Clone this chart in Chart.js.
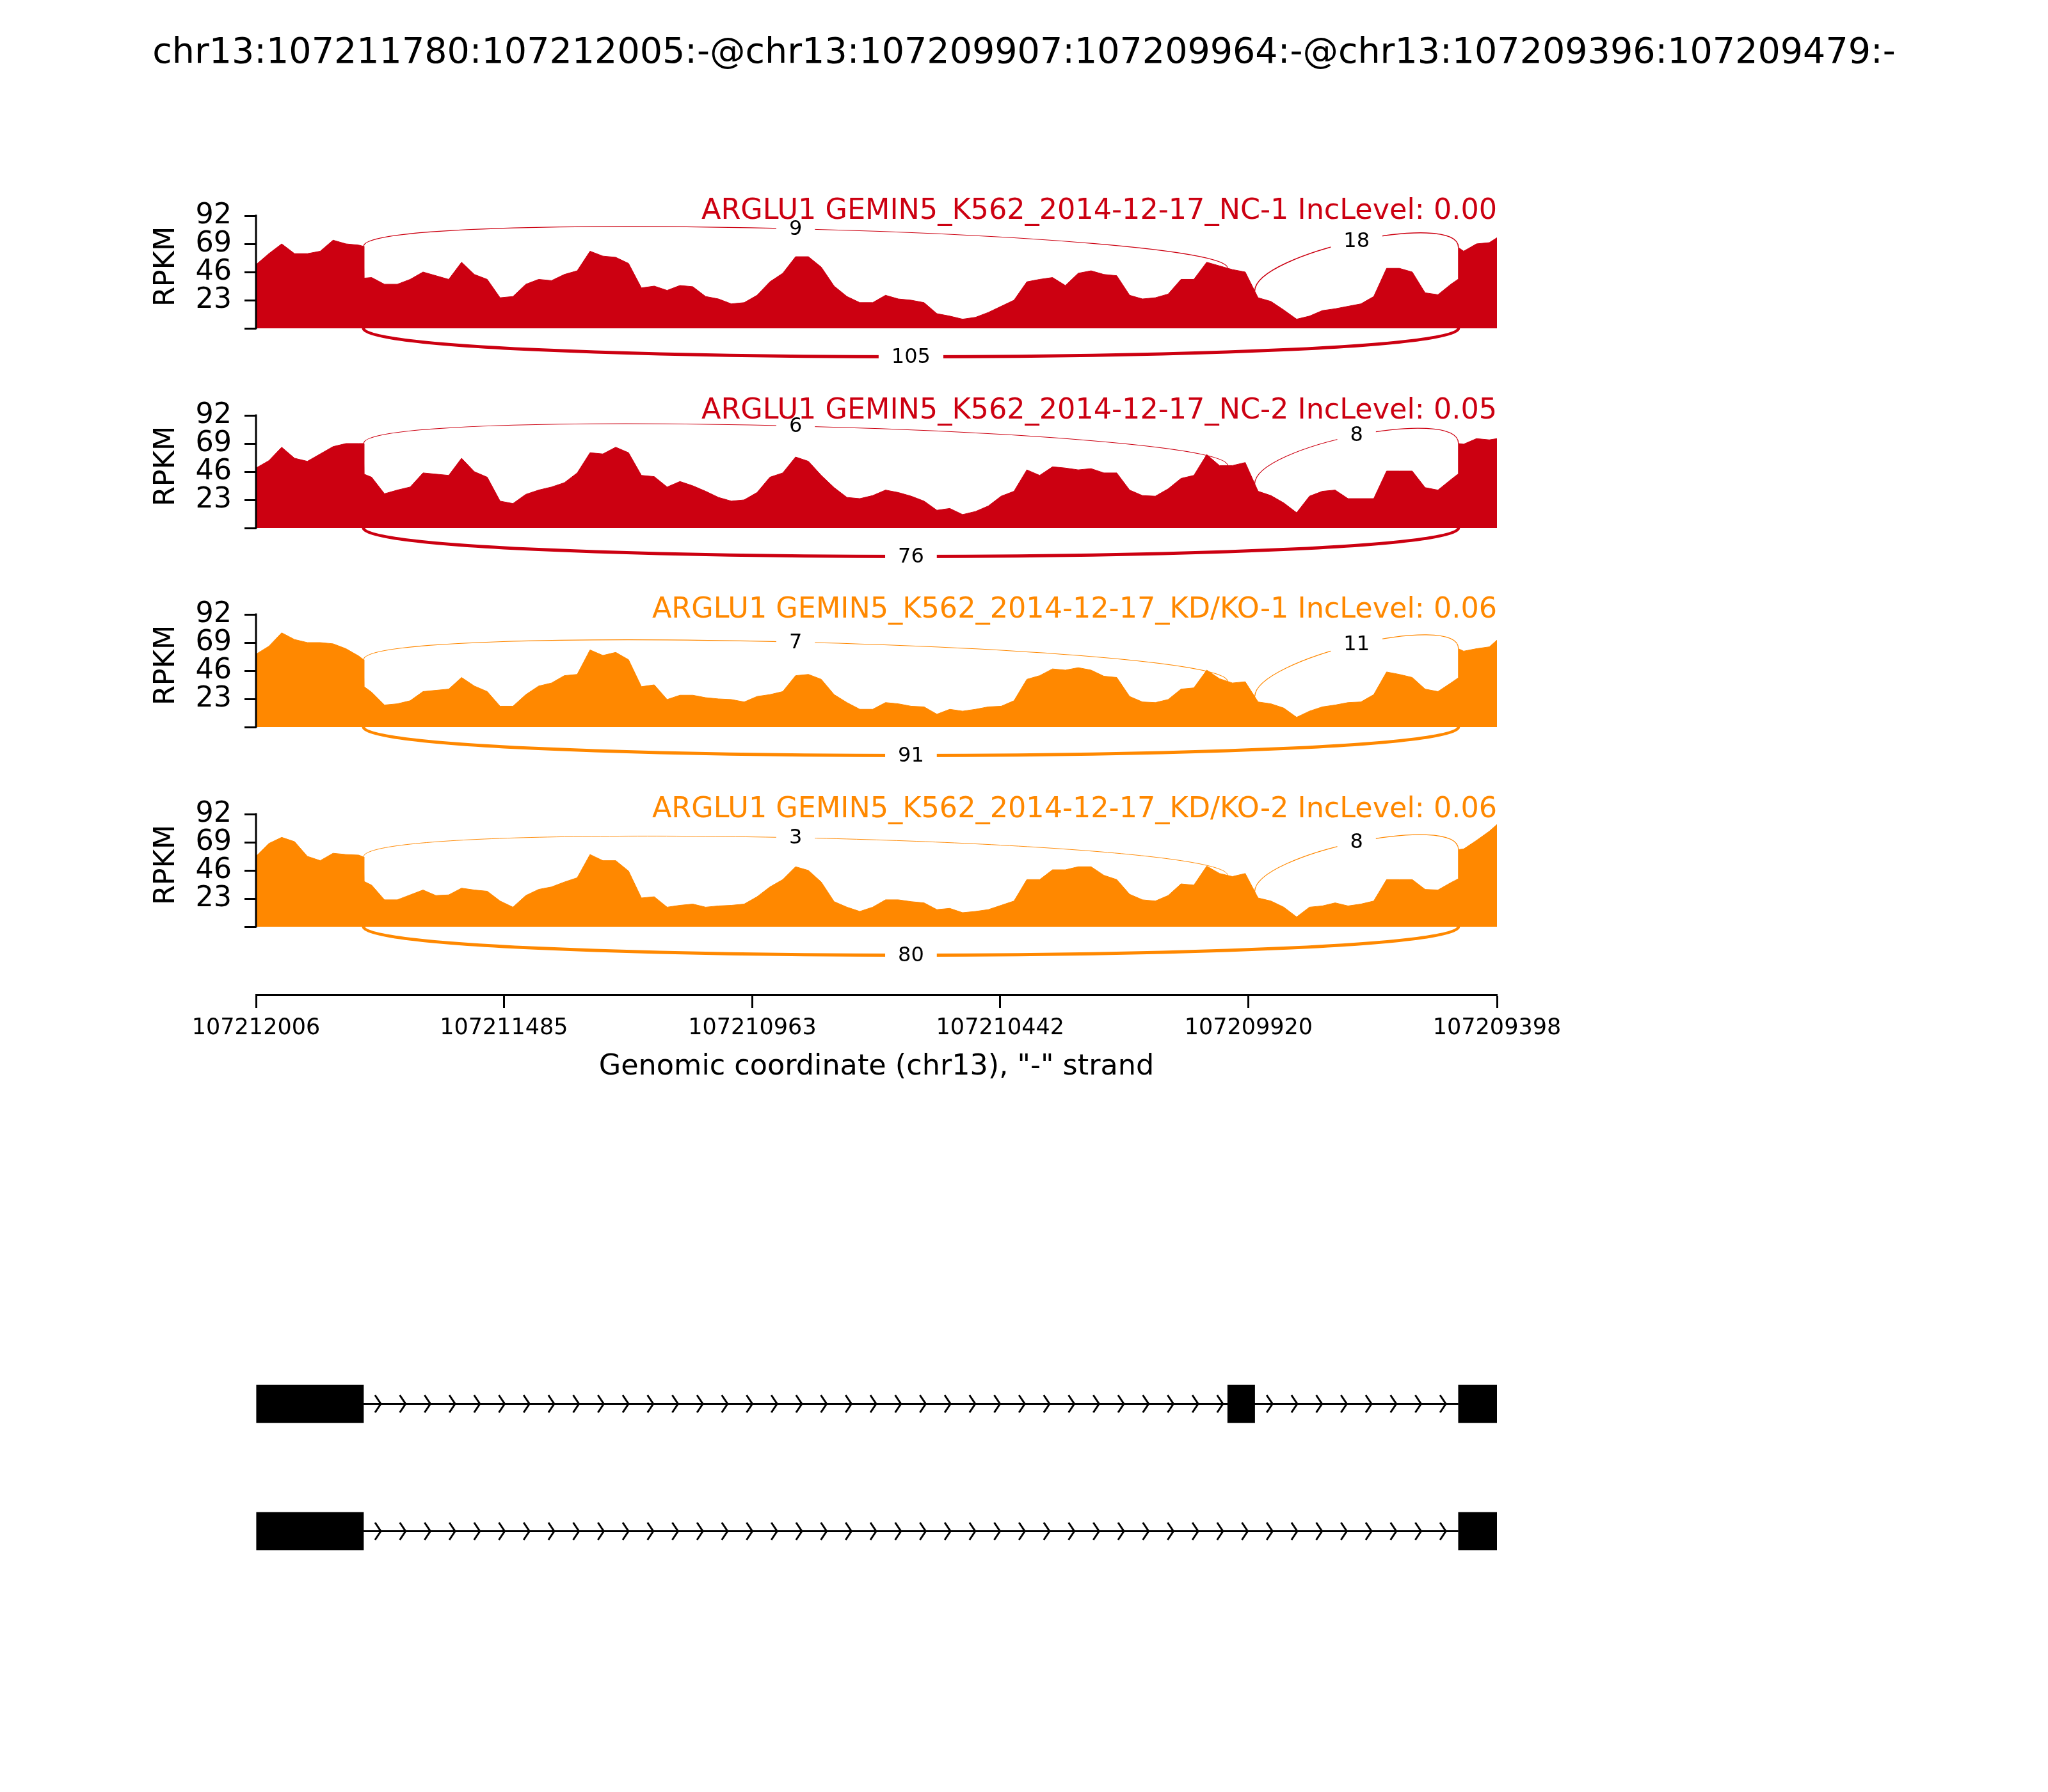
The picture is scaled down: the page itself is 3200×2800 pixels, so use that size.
<!DOCTYPE html>
<html><head><meta charset="utf-8">
<script src="https://cdn.jsdelivr.net/npm/chart.js@4.4.1/dist/chart.umd.min.js"></script>
<style>
html,body{margin:0;padding:0;background:#fff;}
#page{position:relative;width:3200px;height:2800px;background:#fff;overflow:hidden;}
#page canvas{position:absolute;left:0;}
#title{position:absolute;left:0;width:3200px;top:51px;text-align:center;font-family:'DejaVu Sans';font-size:55.5px;line-height:55px;color:#000;white-space:nowrap;}
</style></head><body><div id="page"><div id="title"></div></div>
<script>
// ---------------- data ----------------
const regionTitle = "chr13:107211780:107212005:-@chr13:107209907:107209964:-@chr13:107209396:107209479:-";
const xAxisLabel = 'Genomic coordinate (chr13), "-" strand';
const yAxisLabel = "RPKM";
const xMin = 107209398, xMax = 107212006;
const xTickValues = [107212006, 107211485, 107210963, 107210442, 107209920, 107209398];
const xTickLabels = ["107212006", "107211485", "107210963", "107210442", "107209920", "107209398"];
const yTickValues = [0, 23, 46, 69, 92];

const positions = [
 107212006,107211979,107211952,107211925,107211898,107211871,107211844,107211817,107211790,
 107211780,107211779,
 107211763,107211736,107211709,107211682,107211655,107211628,107211601,107211574,107211547,107211520,
 107211493,107211466,107211439,107211412,107211385,107211358,107211331,107211304,107211277,107211250,
 107211223,107211196,107211169,107211142,107211115,107211088,107211061,107211034,107211007,107210980,
 107210953,107210926,107210899,107210872,107210845,107210818,107210791,107210764,107210737,107210710,
 107210683,107210656,107210629,107210602,107210575,107210548,107210521,107210494,107210467,107210440,
 107210413,107210386,107210359,107210332,107210305,107210278,107210251,107210224,107210197,107210170,
 107210143,107210116,107210089,107210062,107210035,107210008,107209981,107209954,107209927,107209900,
 107209873,107209846,107209819,107209792,107209765,107209738,107209711,107209684,107209657,107209630,
 107209603,107209576,107209549,107209522,107209495,
 107209480,107209479,
 107209468,107209441,107209414,
 107209398
];

const covNC1 = [52,61,69,61,61,63,72,69,68,
 67,41,
 41.5,36,36,40,46,43,40,54,44,40,25,26,36,40,39,44,47,63,59,58,53,33,34.5,31,35,34,26,24,20,21,27,38,45,58.5,58.5,50,34.5,26,21,21,
 27,24,23,21,12,10,7.5,9,13,18,23,38,40,41.5,35,45,47,44,43,27,24,25,28,40,40,54,51,48,46,25,22,15,7.5,10,14.5,16,18,20,26,49,49,46,29,27.5,36,
 40,66,
 63,69,70,
 74];
const covNC2 = [49,55,66,57,54.5,60.5,66.5,69,69,
 69,44,
 41.5,28,31,33.5,45,44,43,57,46,41.5,22,20,27.5,31,33.5,37,45,61.5,60.5,66,61.5,43,42,33.5,38,34.5,30,25,22,23,29,41.5,45,58,54.5,43,33,25,24,26.5,
 31,29,26,22,14.5,16,11,13.5,18,26,30,47.5,43,50,49,47.5,48.5,45,45,31,26.5,26,32,40.5,43,60,51,51,53.5,30,26.5,20.5,12.5,26,30,31,24,24,24,46.5,46.5,46.5,33,31,39.5,
 44,69,
 68.5,73,72,
 73];
const covKD1 = [59.5,66,77,71.5,69,69,68,64,58,
 55,33,
 28.5,18,19,21.5,29,30,31,40.5,33.5,29,17,17,26.5,33.5,36,42,43,63,58.5,61,55,33,34.5,22.5,26,26,24,23,22.5,20.5,25,26.5,29,42,43,39,26.5,20,14.5,14.5,
 20,19,17,16.5,10.5,14.5,13,14.5,16.5,17,21.5,39,42,47.5,46.5,48.5,46.5,41.5,40.5,25,20.5,20,22.5,31,32,46.5,39.5,36,37,20.5,19,15.5,8,13,16.5,18,20,20.5,26.5,45,43,40.5,31,29,36,
 40,64,
 62,64,65.5,
 71];
const covKD2 = [57.5,68,73,69.5,57.5,54,60,59,58.5,
 57,37,
 34,22,22,26,30,25.5,26,31.5,30,29,21,16,25.5,30.5,32.5,36.5,40,59,54,54,45.5,23.5,24.5,16,17.5,18.5,16,17,17.5,18.5,24.5,32.5,38.5,49,46,36.5,20.5,16,12.5,16,
 22,22,20.5,19.5,14,15,11.5,12.5,14,17.5,21,38.5,38.5,46.5,46.5,49,49,42,38.5,26.5,22,21,25.5,35,34,49.5,43.5,41,43.5,23.5,21,16,8,16,17,19.5,17,18.5,21,38.5,38.5,38.5,30.5,30,36,
 39,63,
 63.5,70.5,78,
 83.5];

const sampleNames = [
 "ARGLU1 GEMIN5_K562_2014-12-17_NC-1 IncLevel: 0.00",
 "ARGLU1 GEMIN5_K562_2014-12-17_NC-2 IncLevel: 0.05",
 "ARGLU1 GEMIN5_K562_2014-12-17_KD/KO-1 IncLevel: 0.06",
 "ARGLU1 GEMIN5_K562_2014-12-17_KD/KO-2 IncLevel: 0.06"
];
const sampleColors = ["#CC0011", "#CC0011", "#FF8800", "#FF8800"];
const sampleCoverage = [covNC1, covNC2, covKD1, covKD2];

// junctions: left/right genomic coordinate (display order), side of the arc
const juncLeft  = [107211780, 107209907, 107211780];
const juncRight = [107209964, 107209479, 107209479];
const juncSide  = ["top", "top", "bottom"];
const juncCountsNC1 = [9, 18, 105];
const juncCountsNC2 = [6, 8, 76];
const juncCountsKD1 = [7, 11, 91];
const juncCountsKD2 = [3, 8, 80];
const sampleJunctions = [juncCountsNC1, juncCountsNC2, juncCountsKD1, juncCountsKD2];

// gene model
const exonStarts = [107211780, 107209907, 107209396];
const exonEnds   = [107212005, 107209964, 107209479];
const isoformExons = [[0, 1, 2], [0, 2]];
const isoformLabels = ["inclusion", "skipping"];

// ---------------- layout ----------------
const FONT = "'DejaVu Sans'";
const W = 3200;
const PLOT_LEFT = 400, PLOT_RIGHT = 2339;
const panelTops = [337, 649, 960, 1272];
const PANEL_PAD_TOP = 110, PANEL_H = 264, PANEL_PAD_BOTTOM = 70;
const ARC_H = 31;
const LABEL_SIZE = 44.5;

document.getElementById('title').textContent = regionTitle;
const page = document.getElementById('page');
function makeCanvas(top, height) {
  const c = document.createElement('canvas');
  c.width = W; c.height = height;
  c.style.top = top + 'px';
  c.style.width = W + 'px'; c.style.height = height + 'px';
  page.appendChild(c);
  return c.getContext('2d');
}

function interp(g, vals) {
  for (let i = 0; i < positions.length - 1; i++) {
    const a = positions[i], b = positions[i + 1];
    if (a >= g && g >= b) {
      const t = (a - g) / (a - b);
      return vals[i] + (vals[i + 1] - vals[i]) * t;
    }
  }
  return 0;
}

function makePanelPlugin(idx) {
  const vals = sampleCoverage[idx], counts = sampleJunctions[idx], color = sampleColors[idx];
  return {
    id: 'sashimi' + idx,
    afterDatasetsDraw(chart) {
      const {ctx, chartArea, scales: {x, y}} = chart;
      const maxC = Math.max(...counts);
      const labels = [];
      ctx.save();
      for (let j = 0; j < counts.length; j++) {
        const x1 = x.getPixelForValue(juncLeft[j]);
        const x2 = x.getPixelForValue(juncRight[j]);
        let y1v, y2v, c1v, c2v;
        if (juncSide[j] === 'top') {
          y1v = interp(juncLeft[j], vals); y2v = interp(juncRight[j], vals);
          c1v = y1v + ARC_H; c2v = y2v + ARC_H;
        } else {
          y1v = 0; y2v = 0; c1v = -ARC_H; c2v = -ARC_H;
        }
        const P0 = [x1, y.getPixelForValue(y1v)], P1 = [x1, y.getPixelForValue(c1v)];
        const P2 = [x2, y.getPixelForValue(c2v)], P3 = [x2, y.getPixelForValue(y2v)];
        ctx.beginPath();
        ctx.moveTo(P0[0], P0[1]);
        ctx.bezierCurveTo(P1[0], P1[1], P2[0], P2[1], P3[0], P3[1]);
        ctx.strokeStyle = color;
        ctx.lineWidth = 0.8 + 4.2 * counts[j] / maxC;
        ctx.stroke();
        const mx = (P0[0] + 3 * P1[0] + 3 * P2[0] + P3[0]) / 8;
        const my = (P0[1] + 3 * P1[1] + 3 * P2[1] + P3[1]) / 8;
        labels.push([mx, my, String(counts[j])]);
      }
      ctx.font = "32px " + FONT;
      ctx.textAlign = 'center'; ctx.textBaseline = 'middle';
      for (const [mx, my, t] of labels) {
        const w = ctx.measureText(t).width;
        ctx.fillStyle = '#fff';
        ctx.fillRect(mx - w / 2 - 20, my - 41, w + 40, 82);
        ctx.fillStyle = '#000';
        ctx.fillText(t, mx, my + 1);
      }
      // y spine from 0 to 92
      ctx.beginPath();
      ctx.moveTo(chartArea.left, y.getPixelForValue(0) + 1.5);
      ctx.lineTo(chartArea.left, y.getPixelForValue(92) - 1.5);
      ctx.strokeStyle = '#000'; ctx.lineWidth = 3; ctx.stroke();
      // RPKM label
      ctx.save();
      ctx.translate(260, y.getPixelForValue(50.5));
      ctx.rotate(-Math.PI / 2);
      ctx.font = LABEL_SIZE + "px " + FONT; ctx.fillStyle = '#000';
      ctx.textAlign = 'center'; ctx.textBaseline = 'middle';
      ctx.fillText(yAxisLabel, 0, 0);
      ctx.restore();
      // sample title
      ctx.font = LABEL_SIZE + "px " + FONT; ctx.fillStyle = color;
      ctx.textAlign = 'right'; ctx.textBaseline = 'alphabetic';
      ctx.fillText(sampleNames[idx], chartArea.right, y.getPixelForValue(92) + 4.5);
      ctx.restore();
    }
  };
}

// ---------------- coverage panels ----------------
sampleCoverage.forEach((vals, idx) => {
  const ctx = makeCanvas(panelTops[idx] - PANEL_PAD_TOP, PANEL_PAD_TOP + PANEL_H + PANEL_PAD_BOTTOM);
  new Chart(ctx, {
    type: 'line',
    data: {
      datasets: [{
        data: positions.map((p, i) => ({x: p, y: vals[i]})),
        fill: 'origin',
        backgroundColor: sampleColors[idx],
        borderColor: sampleColors[idx],
        borderWidth: 1,
        pointRadius: 0,
        tension: 0
      }]
    },
    options: {
      responsive: false, animation: false, devicePixelRatio: 1, events: [],
      layout: {padding: {top: PANEL_PAD_TOP, bottom: PANEL_PAD_BOTTOM, left: PLOT_LEFT - 160, right: W - PLOT_RIGHT}},
      plugins: {legend: {display: false}, tooltip: {enabled: false}},
      scales: {
        x: {type: 'linear', min: xMin, max: xMax, reverse: true, display: false},
        y: {
          type: 'linear', min: -46, max: 92,
          afterBuildTicks(scale) { scale.ticks = yTickValues.map(v => ({value: v})); },
          afterFit(scale) { scale.width = 160; },
          ticks: {
            font: {family: 'DejaVu Sans', size: LABEL_SIZE}, color: '#000', padding: 20,
            callback: (v) => (v === 0 ? '' : String(v))
          },
          grid: {drawOnChartArea: false, drawTicks: true, tickLength: 18, tickWidth: 3, tickColor: '#000'},
          border: {display: false}
        }
      }
    },
    plugins: [makePanelPlugin(idx)]
  });
});

// ---------------- x axis ----------------
(function () {
  const top = 1500, padTop = 10, axisH = 160;
  const ctx = makeCanvas(top, padTop + 44 + axisH);
  new Chart(ctx, {
    type: 'line',
    data: {datasets: []},
    options: {
      responsive: false, animation: false, devicePixelRatio: 1, events: [],
      layout: {padding: {top: padTop, bottom: 0, left: PLOT_LEFT, right: W - PLOT_RIGHT}},
      plugins: {legend: {display: false}, tooltip: {enabled: false}},
      scales: {
        x: {
          type: 'linear', position: 'bottom', min: xMin, max: xMax, reverse: true,
          afterBuildTicks(scale) { scale.ticks = xTickValues.map(v => ({value: v})); },
          afterFit(scale) { scale.height = axisH; },
          ticks: {
            autoSkip: false, maxRotation: 0, minRotation: 0,
            font: {family: 'DejaVu Sans', size: 35}, color: '#000', padding: 11,
            callback: (v, i) => xTickLabels[i]
          },
          grid: {drawOnChartArea: false, drawTicks: true, tickLength: 21, tickWidth: 3, tickColor: '#000'},
          border: {display: true, width: 3, color: '#000'},
          title: {display: true, text: xAxisLabel, color: '#000',
                  font: {family: 'DejaVu Sans', size: LABEL_SIZE}, padding: {top: 0, bottom: 20}}
        },
        y: {display: false, min: 0, max: 1}
      }
    }
  });
})();

// ---------------- gene model ----------------
(function () {
  const top = 2080, padTop = 14, areaH = 398, padBottom = 14;
  const ctx = makeCanvas(top, padTop + areaH + padBottom);
  const datasets = exonStarts.map((s, e) => ({
    data: isoformExons.map(ex => (ex.includes(e) ? [exonStarts[e], exonEnds[e]] : null)),
    backgroundColor: '#000', borderWidth: 0, borderSkipped: false,
    barThickness: 59, grouped: false
  }));
  const intronPlugin = {
    id: 'introns',
    beforeDatasetsDraw(chart) {
      const {ctx, scales: {x, y}} = chart;
      ctx.save();
      ctx.strokeStyle = '#000'; ctx.lineWidth = 3;
      isoformExons.forEach((ex, r) => {
        const yc = y.getPixelForValue(r);
        const xa = x.getPixelForValue(exonStarts[ex[0]]);
        const xb = x.getPixelForValue(exonEnds[ex[ex.length - 1]]);
        ctx.beginPath(); ctx.moveTo(xa, yc); ctx.lineTo(xb, yc); ctx.stroke();
        for (let tx = xa + 27; tx < xb - 4; tx += 38.7) {
          ctx.beginPath();
          ctx.moveTo(tx - 9, yc - 13.5); ctx.lineTo(tx, yc); ctx.lineTo(tx - 9, yc + 13.5);
          ctx.stroke();
        }
      });
      ctx.restore();
    }
  };
  new Chart(ctx, {
    type: 'bar',
    data: {labels: isoformLabels, datasets},
    options: {
      indexAxis: 'y',
      responsive: false, animation: false, devicePixelRatio: 1, events: [],
      layout: {padding: {top: padTop, bottom: padBottom, left: PLOT_LEFT, right: W - PLOT_RIGHT}},
      plugins: {legend: {display: false}, tooltip: {enabled: false}},
      scales: {
        x: {type: 'linear', min: xMin, max: xMax, reverse: true, display: false},
        y: {type: 'category', display: false}
      }
    },
    plugins: [intronPlugin]
  });
})();
</script>
</body></html>
